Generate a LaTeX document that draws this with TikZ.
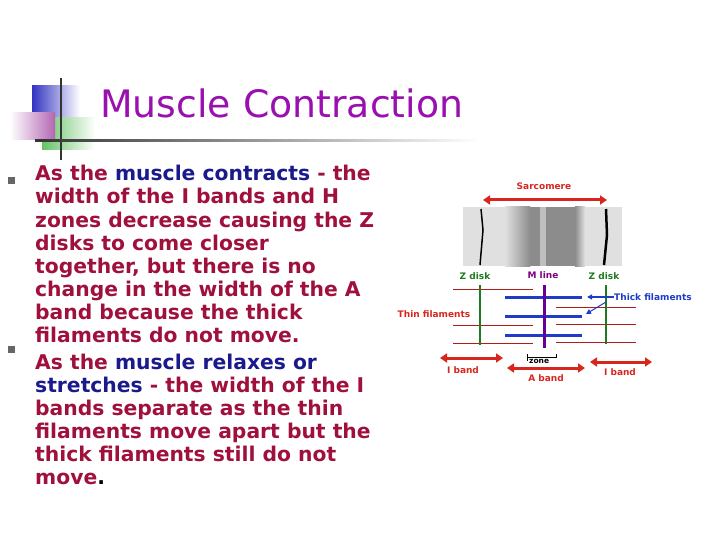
\documentclass[tikz,border=0pt]{standalone}
\usepackage{fontspec}
\setmainfont{DejaVu Sans}
\usetikzlibrary{arrows.meta}
\definecolor{tpurple}{HTML}{9A0FB0}
\definecolor{bred}{HTML}{A0103C}
\definecolor{bblue}{HTML}{1A1A8C}
\definecolor{dred}{HTML}{D8261E}
\definecolor{dgreen}{HTML}{1E7A1E}
\definecolor{dblue}{HTML}{1E3CC8}
\begin{document}
\begin{tikzpicture}[x=1pt,y=-1pt,
  body/.style={anchor=base west,inner sep=0,font=\bfseries\fontsize{20.3}{22}\selectfont,text=bred},
  lab/.style={inner sep=0,font=\bfseries\fontsize{9}{10}\selectfont},
  darr/.style={dred,line width=3pt,{Triangle[length=7pt,width=9pt]}-{Triangle[length=7pt,width=9pt]}},
  thin/.style={dred!80!black,line width=0.8pt},
  thick/.style={dblue,line width=3pt}]
\useasboundingbox (0,0) rectangle (720,540);
% title decoration
\shade[left color=blue!70!black!80,right color=white] (32,86) rectangle (80,118);
\shade[left color=green!60!black!60,right color=white] (42,118) rectangle (95,150);
\shade[left color=white,right color=violet!60] (10,113) rectangle (55,140);
\draw[black!80,line width=1.5pt] (61,78) -- (61,160);
\shade[left color=black!80,right color=white] (35,140) rectangle (480,142);
\node[inner sep=0,anchor=base west,text=tpurple,font=\fontsize{37.8}{40}\selectfont] (title) at (100,118) {Muscle Contraction};
% bullets
\fill[black!60] (8,177) rectangle (15,184);
\fill[black!60] (8,346) rectangle (15,353);
\node[body] (l1) at (35,181) {As the \textcolor{bblue}{muscle contracts} - the};
\node[body] (l2) at (35,204) {width of the I bands and H};
\node[body] (l3) at (35,227) {zones decrease causing the Z};
\node[body] (l4) at (35,250) {disks to come closer};
\node[body] (l5) at (35,273) {together, but there is no};
\node[body] (l6) at (35,296) {change in the width of the A};
\node[body] (l7) at (35,319) {band because the thick};
\node[body] (l8) at (35,342) {filaments do not move.};
\node[body] (l9) at (35,369) { As the \textcolor{bblue}{muscle relaxes or}};
\node[body] (l10) at (35,392) {\textcolor{bblue}{stretches} - the width of the I};
\node[body] (l11) at (35,415) {bands separate as the thin};
\node[body] (l12) at (35,438) {filaments move apart but the};
\node[body] (l13) at (35,461) {thick filaments still do not};
\node[body] (l14) at (35,484) {move\textcolor{black}{.}};
% diagram
\node[lab,text=dred] (sarc) at (544,186) {Sarcomere};
\coordinate (s1) at (483,200); \coordinate (s2) at (607,200);
\draw[darr] (s1) -- (s2);
\fill[black!12] (463,207) rectangle (622,266);
\shade[left color=black!12,right color=black!45] (505,207) rectangle (530,266);
\fill[black!45] (530,207) rectangle (540,266);
\fill[black!25] (540,207) rectangle (546,266);
\fill[black!45] (546,207) rectangle (575,266);
\shade[left color=black!45,right color=black!12] (575,207) rectangle (585,266);
\draw[black,line width=1.5pt] (481,209) -- (483,230) -- (480,265);
\draw[black,line width=2.5pt] (606,209) -- (607,235) -- (604,265);
\node[lab,text=dgreen] (z1) at (475,276) {Z disk};
\node[lab,text=violet] (ml) at (543,275) {M line};
\node[lab,text=dgreen] (z2) at (604,276) {Z disk};
\draw[thin] (453,289) -- (533,289) (453,325) -- (533,325) (453,343) -- (533,343);
\draw[thin] (556,307) -- (636,307) (556,324) -- (636,324) (556,342) -- (636,342);
\draw[thick] (505,297) -- (582,297) (505,316) -- (582,316) (505,335) -- (582,335);
\draw[dgreen,line width=1.5pt] (480,285) -- (480,345);
\draw[dgreen,line width=2pt] (606,285) -- (606,344);
\draw[violet!80!blue,line width=3pt] (544,285) -- (544,348);
\node[lab,text=dred] (thin) at (434,314) {Thin filaments};
\node[lab,text=dblue,anchor=west] (thick) at (614,297) {Thick filaments};
\coordinate (ta) at (587,297); \coordinate (tb) at (586,314);
\draw[dblue,line width=1.2pt,-{Triangle[length=5pt,width=5pt]}] (thick.west) -- (ta);
\draw[dblue,line width=1pt,-{Triangle[length=5pt,width=5pt]}] (606,302) -- (tb);
\draw[black,line width=0.6pt] (527,354) -- (527,361) (527,357.5) -- (556,357.5) -- (556,354);
\node[lab,anchor=west,font=\bfseries\fontsize{7.5}{8}\selectfont] (hz) at (529,361) {zone};
\coordinate (i1a) at (440,358); \coordinate (i1b) at (503,358);
\draw[darr] (i1a) -- (i1b);
\node[lab,text=dred] (ib1) at (463,370) {I band};
\coordinate (aa) at (507,368); \coordinate (ab) at (585,368);
\draw[darr] (aa) -- (ab);
\node[lab,text=dred] (ab1) at (546,378) {A band};
\coordinate (i2a) at (590,362); \coordinate (i2b) at (652,362);
\draw[darr] (i2a) -- (i2b);
\node[lab,text=dred] (ib2) at (620,372) {I band};
\end{tikzpicture}
\end{document}
